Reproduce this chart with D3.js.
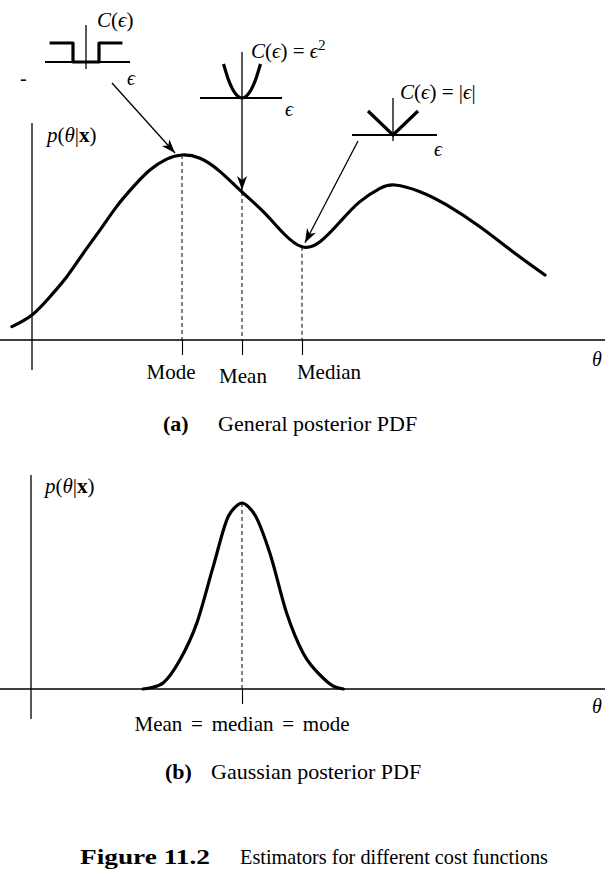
<!DOCTYPE html>
<html><head><meta charset="utf-8">
<script src="https://cdn.jsdelivr.net/npm/d3@7"></script>
<style>
body{margin:0;background:#fff}
svg{display:block;background:#fff}
text{font-family:"Liberation Serif","Times New Roman",serif;fill:#000}
</style>
</head><body>
<svg id="chart" width="614" height="881"></svg>
<script>
// ---------- data ----------
const posteriorTheta = [-0.67, 0.0, 0.6, 1.16, 1.71, 2.27, 2.82, 3.38, 3.93, 4.49, 5.0, 5.6, 6.27, 7.0, 7.71, 8.38, 9.0, 9.6, 10.27, 10.93, 11.6, 12.1, 12.93, 13.82, 14.93, 16.03, 17.1];
const posteriorP     = [0.072, 0.135, 0.234, 0.342, 0.469, 0.595, 0.721, 0.829, 0.919, 0.978, 1.0, 0.982, 0.91, 0.80, 0.694, 0.577, 0.504, 0.531, 0.639, 0.748, 0.82, 0.838, 0.802, 0.73, 0.612, 0.477, 0.351];
const estimatorNames = ["Mode", "Mean", "Median"];
const estimatorTheta = [5, 7, 9];

const gaussTheta = [3.7, 4.0, 4.38, 4.93, 5.49, 6.04, 6.55, 6.8, 7.0, 7.2, 7.45, 7.93, 8.49, 9.04, 9.71, 10.0, 10.38];
const gaussP     = [0.0, 0.008, 0.034, 0.156, 0.353, 0.658, 0.93, 0.982, 1.0, 0.982, 0.93, 0.73, 0.407, 0.192, 0.058, 0.02, 0.0];
const gaussEstimatorTheta = [7];
const gaussEstimatorNames = ["Mean = median = mode"];

// cost functions C(eps)
const stepEps = [-2.8, -1, -1, 1, 1, 2.8];
const stepC   = [1, 1, 0, 0, 1, 1];
const sqEps = [-1, -0.75, -0.5, -0.25, 0, 0.25, 0.5, 0.75, 1];
const sqC   = [1, 0.5625, 0.25, 0.0625, 0, 0.0625, 0.25, 0.5625, 1];
const absEps = [-1, 0, 1];
const absC   = [1, 0, 1];

const panelCaptions = ["General posterior PDF", "Gaussian posterior PDF"];
const panelLetters = ["(a)", "(b)"];
const figureNumber = "Figure 11.2";
const figureTitle = "Estimators for different cost functions";

// ---------- layout ----------
const svg = d3.select("#chart");
const defs = svg.append("defs");
defs.append("marker").attr("id", "ah")
  .attr("viewBox", "-15 -6 16 12").attr("refX", 0).attr("refY", 0)
  .attr("markerWidth", 16).attr("markerHeight", 12)
  .attr("markerUnits", "userSpaceOnUse").attr("orient", "auto")
  .append("path").attr("d", "M0,0 L-14,-5 L-10,0 L-14,5 Z").attr("fill", "#000");

const xA = d3.scaleLinear().domain([0, 10]).range([32, 332]);
const yA = d3.scaleLinear().domain([0, 1]).range([340, 155]);
const yB = d3.scaleLinear().domain([0, 1]).range([689, 503]);

function mathLabel(g, x, y, size, parts) {
  const t = g.append("text").attr("x", x).attr("y", y).attr("font-size", size);
  parts.forEach(p => {
    const s = t.append("tspan").text(p.t);
    if (p.i) s.attr("font-style", "italic");
    if (p.b) s.attr("font-weight", "bold");
    if (p.sup) s.attr("dy", -8).attr("font-size", size * 0.7);
  });
  return t;
}

// ---------- panel (a) ----------
const ga = svg.append("g");
ga.append("line").attr("x1", 0).attr("x2", 605).attr("y1", yA(0)).attr("y2", yA(0))
  .attr("stroke", "#000").attr("stroke-width", 1.6);
ga.append("line").attr("x1", xA(0)).attr("x2", xA(0)).attr("y1", 123).attr("y2", 370)
  .attr("stroke", "#000").attr("stroke-width", 1.3);

estimatorTheta.forEach(t => {
  const i = posteriorTheta.indexOf(t);
  ga.append("line").attr("x1", xA(t)).attr("x2", xA(t))
    .attr("y1", yA(posteriorP[i])).attr("y2", yA(0))
    .attr("stroke", "#000").attr("stroke-width", 1).attr("stroke-dasharray", "4,3");
});
const axA = ga.append("g").attr("transform", `translate(0,${yA(0)})`)
  .call(d3.axisBottom(xA).tickValues(estimatorTheta).tickSize(15).tickFormat(""));
axA.select(".domain").remove();
axA.selectAll(".tick line").attr("stroke", "#000").attr("stroke-width", 1.1);
const labelDx = [-11, 1, 27], labelY = [379, 383, 379];
estimatorNames.forEach((n, k) => {
  ga.append("text").attr("x", xA(estimatorTheta[k]) + labelDx[k]).attr("y", labelY[k])
    .attr("text-anchor", "middle").attr("font-size", 21).text(n);
});

ga.append("path").datum(posteriorTheta.map((t, i) => [t, posteriorP[i]]))
  .attr("d", d3.line().x(d => xA(d[0])).y(d => yA(d[1])).curve(d3.curveNatural))
  .attr("fill", "none").attr("stroke", "#000").attr("stroke-width", 3.2)
  .attr("stroke-linecap", "round").attr("stroke-linejoin", "round");

mathLabel(ga, 47, 142, 21, [{t: "p", i: 1}, {t: "("}, {t: "θ", i: 1}, {t: "|"}, {t: "x", b: 1}, {t: ")"}]);
mathLabel(ga, 592, 366, 20, [{t: "θ", i: 1}]);

function inset(cx, cy, ux, uy, eps, c, axL, axR, vTop, vBot, curve) {
  const sx = d3.scaleLinear().domain([0, 1]).range([cx, cx + ux]);
  const sy = d3.scaleLinear().domain([0, 1]).range([cy, cy - uy]);
  ga.append("line").attr("x1", axL).attr("x2", axR).attr("y1", cy).attr("y2", cy)
    .attr("stroke", "#000").attr("stroke-width", 2);
  if (vTop !== null) ga.append("line").attr("x1", cx).attr("x2", cx).attr("y1", vTop).attr("y2", vBot)
    .attr("stroke", "#000").attr("stroke-width", 1.3);
  ga.append("path").datum(eps.map((e, i) => [e, c[i]]))
    .attr("d", d3.line().x(d => sx(d[0])).y(d => sy(d[1])).curve(curve))
    .attr("fill", "none").attr("stroke", "#000").attr("stroke-width", 3.2)
    .attr("stroke-linejoin", "round").attr("stroke-linecap", "butt");
}
inset(86, 62, 13, 19, stepEps, stepC, 45, 130, 25, 69, d3.curveLinear);
inset(242, 98, 18.5, 34, sqEps, sqC, 200, 282, null, null, d3.curveNatural);
inset(393, 135, 25, 24, absEps, absC, 352, 437, 98, 141, d3.curveLinear);

mathLabel(ga, 97, 27, 21, [{t: "C", i: 1}, {t: "("}, {t: "ϵ", i: 1}, {t: ")"}]);
mathLabel(ga, 127, 85, 20, [{t: "ϵ", i: 1}]);
ga.append("text").attr("x", 20).attr("y", 85).attr("font-size", 20).text("-");
mathLabel(ga, 251, 58, 21, [{t: "C", i: 1}, {t: "("}, {t: "ϵ", i: 1}, {t: ") = "}, {t: "ϵ", i: 1}, {t: "2", sup: 1}]);
mathLabel(ga, 285, 116, 20, [{t: "ϵ", i: 1}]);
mathLabel(ga, 400, 99, 21, [{t: "C", i: 1}, {t: "("}, {t: "ϵ", i: 1}, {t: ") = |"}, {t: "ϵ", i: 1}, {t: "|"}]);
mathLabel(ga, 434, 156, 20, [{t: "ϵ", i: 1}]);

function arrow(x1, y1, x2, y2) {
  ga.append("line").attr("x1", x1).attr("y1", y1).attr("x2", x2).attr("y2", y2)
    .attr("stroke", "#000").attr("stroke-width", 1.3).attr("marker-end", "url(#ah)");
}
const iMode = posteriorTheta.indexOf(estimatorTheta[0]);
const iMean = posteriorTheta.indexOf(estimatorTheta[1]);
const iMed = posteriorTheta.indexOf(estimatorTheta[2]);
arrow(112, 83, xA(estimatorTheta[0]) - 7, yA(posteriorP[iMode]) - 2);
arrow(242, 52, xA(estimatorTheta[1]), yA(posteriorP[iMean]) - 2);
arrow(358, 141, xA(estimatorTheta[2]) + 3, yA(posteriorP[iMed]) - 4);

ga.append("text").attr("x", 163).attr("y", 431).attr("font-size", 22).attr("font-weight", "bold").text(panelLetters[0]);
ga.append("text").attr("x", 218).attr("y", 431).attr("font-size", 22).text(panelCaptions[0]);

// ---------- panel (b) ----------
const gb = svg.append("g");
gb.append("line").attr("x1", 0).attr("x2", 605).attr("y1", yB(0)).attr("y2", yB(0))
  .attr("stroke", "#000").attr("stroke-width", 1.6);
gb.append("line").attr("x1", xA(0) - 1).attr("x2", xA(0) - 1).attr("y1", 475).attr("y2", 719)
  .attr("stroke", "#000").attr("stroke-width", 1.3);
gaussEstimatorTheta.forEach(t => {
  const i = gaussTheta.indexOf(t);
  gb.append("line").attr("x1", xA(t)).attr("x2", xA(t)).attr("y1", yB(gaussP[i])).attr("y2", yB(0))
    .attr("stroke", "#000").attr("stroke-width", 1).attr("stroke-dasharray", "4,3");
});
const axB = gb.append("g").attr("transform", `translate(0,${yB(0)})`)
  .call(d3.axisBottom(xA).tickValues(gaussEstimatorTheta).tickSize(15).tickFormat(""));
axB.select(".domain").remove();
axB.selectAll(".tick line").attr("stroke", "#000").attr("stroke-width", 1.1);
gaussEstimatorNames.forEach((n, k) => {
  gb.append("text").attr("x", xA(gaussEstimatorTheta[k])).attr("y", 731)
    .attr("text-anchor", "middle").attr("font-size", 21).attr("word-spacing", 3.5).text(n);
});
gb.append("path").datum(gaussTheta.map((t, i) => [t, gaussP[i]]))
  .attr("d", d3.line().x(d => xA(d[0])).y(d => yB(d[1])).curve(d3.curveMonotoneX))
  .attr("fill", "none").attr("stroke", "#000").attr("stroke-width", 3.2)
  .attr("stroke-linecap", "round").attr("stroke-linejoin", "round");
mathLabel(gb, 45, 493, 21, [{t: "p", i: 1}, {t: "("}, {t: "θ", i: 1}, {t: "|"}, {t: "x", b: 1}, {t: ")"}]);
mathLabel(gb, 592, 713, 20, [{t: "θ", i: 1}]);

gb.append("text").attr("x", 165).attr("y", 779).attr("font-size", 22).attr("font-weight", "bold").text(panelLetters[1]);
gb.append("text").attr("x", 211).attr("y", 779).attr("font-size", 22).text(panelCaptions[1]);

// ---------- figure caption ----------
svg.append("text").attr("x", 80).attr("y", 864).attr("font-size", 21).attr("font-weight", "bold")
  .attr("textLength", 130).attr("lengthAdjust", "spacingAndGlyphs").text(figureNumber);
svg.append("text").attr("x", 240).attr("y", 864).attr("font-size", 21)
  .attr("textLength", 308).attr("lengthAdjust", "spacingAndGlyphs").text(figureTitle);
</script>
</body></html>
